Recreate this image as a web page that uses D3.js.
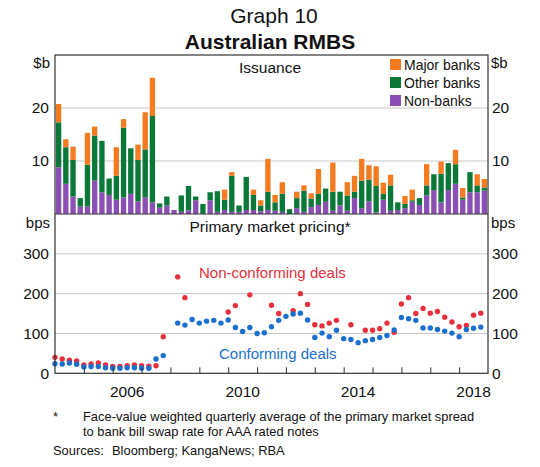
<!DOCTYPE html>
<html>
<head>
<meta charset="utf-8">
<script src="https://cdn.jsdelivr.net/npm/d3@7"></script>
<style>
  body { margin: 0; background: #fff; }
  text { font-family: "Liberation Sans", Arial, sans-serif; fill: #111; }
</style>
</head>
<body>
<svg id="chart" width="540" height="467"></svg>
<script>
// Quarterly data, 2004 Q1 to 2018 Q4
const startYear = 2004;
const quarterCount = 60;

// Issuance ($b) by issuer type
const nonBanks = [8.8, 5.7, 3.3, 1.4, 1.4, 6.3, 4.1, 3.6, 2.7, 3.1, 3.8, 2.4, 3.1, 2.2, 1.2,
  1.6, 0.75, 0.4, 0.7, 2.6, 0, 2.6, 0.4, 0.75, 0.4, 0.4, 0.75, 0.75, 0.5, 0.75,
  0.6, 0.4, 0, 1.1, 0.4, 1.3, 1.7, 2.3, 0.6, 1.6, 0.6, 3.0, 1.1, 2.4, 0.3,
  2.7, 0.6, 0.75, 1.1, 2.3, 1.7, 3.5, 4.5, 2.2, 4.5, 5.7, 2.7, 4.1, 4.1, 4.4];
const otherBanks = [8.5, 6.9, 6.9, 1.6, 7.9, 8.5, 9.7, 3.1, 4.5, 13.2, 8.6, 7.8, 9.1, 16.3, 0.8,
  1.7, 0, 3.1, 4.6, 0.7, 1.9, 1.5, 3.9, 1.95, 6.8, 1.2, 6.25, 2.85, 1.1, 3.45,
  1.6, 3.4, 0.9, 1.9, 4.0, 1.6, 2.1, 2.5, 3.6, 2.6, 2.9, 1.2, 5.2, 4.1, 5.0,
  1.1, 4.8, 1.45, 0.8, 0.3, 1.3, 1.9, 3.0, 5.4, 5.1, 3.7, 0.4, 3.8, 1.3, 0.6];
const majorBanks = [3.45, 1.5, 2.5, 0, 6.0, 1.7, 0, 0, 5.4, 1.6, 0, 2.9, 7.0, 7.2, 0,
  0, 0, 0, 0, 0, 0, 0, 0, 1.9, 0.7, 0, 0, 1.0, 1.0, 6.2,
  1.4, 2.2, 0, 1.2, 1.0, 1.0, 4.7, 0, 5.5, 0, 2.5, 3.0, 4.1, 2.7, 3.7,
  2.1, 2.0, 0, 1.5, 2.0, 0, 4.0, 0, 2.3, 0, 2.7, 1.8, 0, 2.1, 1.6];

// Primary market pricing (bps); null = no deals that quarter
const nonConforming = [40, 36, 33, 31, 21, 23.5, 26, 21, 17, 17, 19, 21, 19, 17.6, 19,
  92, null, 242, 190, null, null, null, null, null, 154, 170, null, 197, null, null,
  171, 150, null, 157, 200, 173, 122, 119, 126, 133, null, 122, null, 108, 108,
  112, 126, 103, 174, 190, 150, 163, 151, 155, 141, 129, 117, 120, 146, 151];
const conforming = [24, 23.5, 26, 23, 16, 17, 17, 14, 12.6, 12.6, 14, 14, 12.6, 12.6, 36,
  44.5, null, 126, 121, 135, 126, 131, 133, 126, 134, 115, 105, 115, 100, 102,
  117, 133, 143, 149, 151, 134, 90, 101, 92, 108, 87, 85, 77, 82, 85,
  90, 95, 109, 140, 137, 133, 114, 114, 110, 106, 101, 92, 110, 113, 116];

const yearTicks = d3.range(2005, 2019);
const yearLabels = [2006, 2010, 2014, 2018];
const issuanceTicks = [10, 20];
const pricingTicks = [0, 100, 200, 300];

const colors = {
  major: "#f47b20",
  other: "#0a7838",
  non: "#8a4fb5",
  red: "#e8303c",
  blue: "#1a6fcf"
};

const svg = d3.select("#chart");

const left = 55, right = 488;
const topY = 55, midY = 214, bottomY = 373.3;

const x = d3.scaleLinear().domain([startYear, startYear + 15]).range([left, right]);
const yTop = d3.scaleLinear().domain([0, 30]).range([midY, topY]);
const yBot = d3.scaleLinear().domain([0, 400]).range([bottomY, midY]);

// Titles
svg.append("text").attr("x", 274).attr("y", 23).attr("text-anchor", "middle")
  .style("font-size", "21px").text("Graph 10");
svg.append("text").attr("x", 270).attr("y", 49).attr("text-anchor", "middle")
  .style("font-size", "21px").style("font-weight", "bold").text("Australian RMBS");

// Gridlines
svg.append("g").selectAll("line").data(issuanceTicks).join("line")
  .attr("x1", left).attr("x2", right)
  .attr("y1", d => yTop(d)).attr("y2", d => yTop(d))
  .attr("stroke", "#c8c8c8").attr("stroke-width", 1);
svg.append("g").selectAll("line").data(pricingTicks.filter(d => d > 0)).join("line")
  .attr("x1", left).attr("x2", right)
  .attr("y1", d => yBot(d)).attr("y2", d => yBot(d))
  .attr("stroke", "#c8c8c8").attr("stroke-width", 1);

// Stacked bars
const rows = d3.range(quarterCount).map(i => ({
  t: startYear + i / 4,
  non: nonBanks[i],
  other: otherBanks[i],
  major: majorBanks[i]
}));
const stack = d3.stack().keys(["non", "other", "major"]);
const series = stack(rows);
const qw = x(startYear + 0.25) - x(startYear);
const bw = qw * 0.74;

svg.append("g").selectAll("g").data(series).join("g")
  .attr("fill", d => colors[d.key])
  .selectAll("rect").data(d => d).join("rect")
  .attr("x", d => x(d.data.t) + (qw - bw) / 2)
  .attr("width", bw)
  .attr("y", d => yTop(d[1]))
  .attr("height", d => Math.max(0, yTop(d[0]) - yTop(d[1])));

// Dots
function dots(values, color) {
  svg.append("g").selectAll("circle")
    .data(values.map((v, i) => ({ t: startYear + i / 4, v })).filter(d => d.v !== null))
    .join("circle")
    .attr("cx", d => x(d.t))
    .attr("cy", d => yBot(d.v))
    .attr("r", 2.7)
    .attr("fill", color);
}
dots(nonConforming, colors.red);
dots(conforming, colors.blue);

// Frame and divider
svg.append("rect").attr("x", left).attr("y", topY)
  .attr("width", right - left).attr("height", bottomY - topY)
  .attr("fill", "none").attr("stroke", "#333").attr("stroke-width", 1.2);
svg.append("line").attr("x1", left).attr("x2", right)
  .attr("y1", midY).attr("y2", midY)
  .attr("stroke", "#333").attr("stroke-width", 1.2);

// Year ticks (inside, pointing up)
svg.append("g").call(d3.axisBottom(x).tickValues(yearTicks).tickSize(-6).tickFormat(""))
  .attr("transform", `translate(0,${bottomY})`)
  .call(g => g.select(".domain").remove())
  .selectAll("line").attr("stroke", "#333");

// Year labels, centred on each year
svg.append("g").selectAll("text").data(yearLabels).join("text")
  .attr("x", d => x(d + 0.5)).attr("y", bottomY + 24)
  .attr("text-anchor", "middle").style("font-size", "15.5px").text(d => d);

// Y axis labels
function yLabels(ticks, scale) {
  svg.append("g").call(d3.axisLeft(scale).tickValues(ticks).tickSize(0).tickPadding(6))
    .attr("transform", `translate(${left},0)`)
    .call(g => g.select(".domain").remove())
    .selectAll("text").style("font-size", "15.5px").style("font-family", "Liberation Sans, Arial, sans-serif").attr("fill", "#111");
  svg.append("g").call(d3.axisRight(scale).tickValues(ticks).tickSize(0).tickPadding(4))
    .attr("transform", `translate(${right},0)`)
    .call(g => g.select(".domain").remove())
    .selectAll("text").style("font-size", "15.5px").style("font-family", "Liberation Sans, Arial, sans-serif").attr("fill", "#111");
}
yLabels(issuanceTicks, yTop);
yLabels(pricingTicks, yBot);

// Unit labels
[["$b", 68], ["bps", 228]].forEach(([u, y]) => {
  svg.append("text").attr("x", left - 5).attr("y", y).attr("text-anchor", "end")
    .style("font-size", "15px").text(u);
  svg.append("text").attr("x", right + 3).attr("y", y)
    .style("font-size", "15px").text(u);
});

// Panel titles
svg.append("text").attr("x", 270).attr("y", 73).attr("text-anchor", "middle")
  .style("font-size", "15.5px").text("Issuance");
svg.append("text").attr("x", 270).attr("y", 232).attr("text-anchor", "middle")
  .style("font-size", "15.5px").text("Primary market pricing*");

// Legend
const legendItems = [["Major banks", colors.major], ["Other banks", colors.other], ["Non-banks", colors.non]];
const legend = svg.append("g").selectAll("g").data(legendItems).join("g")
  .attr("transform", (d, i) => `translate(390,${59 + i * 18})`);
legend.append("rect").attr("width", 11).attr("height", 11).attr("fill", d => d[1]);
legend.append("text").attr("x", 14).attr("y", 10.5).style("font-size", "14px").text(d => d[0]);

// Series labels
svg.append("text").attr("x", 199).attr("y", 278).style("font-size", "15px")
  .style("fill", colors.red).text("Non-conforming deals");
svg.append("text").attr("x", 219).attr("y", 359).style("font-size", "15px")
  .style("fill", colors.blue).text("Conforming deals");

// Footnotes
const foot = svg.append("g").style("font-size", "12.9px");
foot.append("text").attr("x", 53).attr("y", 421).text("*");
foot.append("text").attr("x", 83).attr("y", 421).text("Face-value weighted quarterly average of the primary market spread");
foot.append("text").attr("x", 83).attr("y", 436).text("to bank bill swap rate for AAA rated notes");
foot.append("text").attr("x", 53).attr("y", 455).text("Sources:");
foot.append("text").attr("x", 112).attr("y", 455).text("Bloomberg; KangaNews; RBA");
</script>
</body>
</html>
